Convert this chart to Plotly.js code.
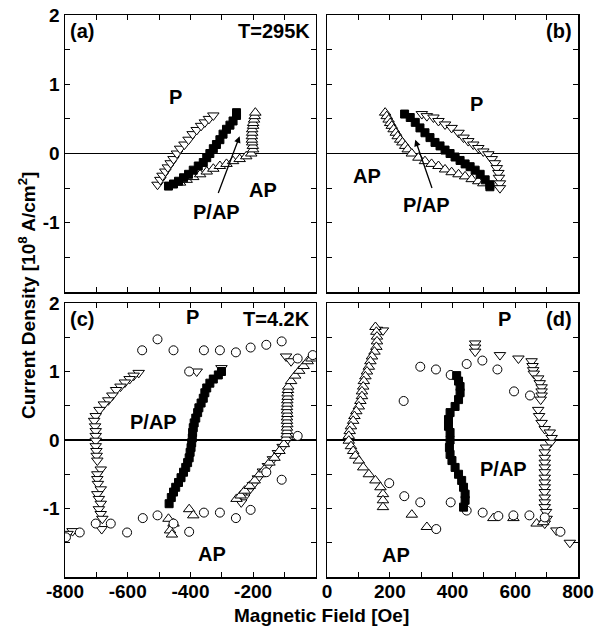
<!DOCTYPE html>
<html>
<head>
<meta charset="utf-8">
<script src="https://cdn.plot.ly/plotly-3.0.1.min.js"></script>
<style>html,body{margin:0;padding:0;background:#fff;}#plot{width:603px;height:633px;}</style>
</head>
<body>
<div id="plot"></div>
<script>
// ---------- Panel (a): T=295K, negative field ----------
const aDownH = [-505,-496,-489,-480,-472,-463,-454,-443,-433,-419,-406,-393,-380,-366,-354,-341,-327];
const aDownJ = [-0.45,-0.38,-0.32,-0.26,-0.20,-0.14,-0.08,0.00,0.07,0.13,0.20,0.28,0.34,0.40,0.45,0.50,0.55];
const aUpH = [-433,-412,-391,-369,-348,-327,-306,-285,-264,-243,-222,-206,-200,-201,-203,-204,-204,-203,-203,-200,-200,-197,-195,-193];
const aUpJ = [-0.42,-0.38,-0.34,-0.30,-0.26,-0.22,-0.18,-0.15,-0.11,-0.08,-0.04,0.00,0.06,0.11,0.16,0.20,0.25,0.30,0.35,0.40,0.44,0.49,0.54,0.59];
const aSqH = [-470,-454,-438,-422,-406,-391,-375,-359,-348,-338,-327,-317,-306,-296,-285,-274,-264,-253,-253];
const aSqJ = [-0.47,-0.44,-0.40,-0.35,-0.30,-0.24,-0.18,-0.13,-0.06,0.00,0.07,0.13,0.20,0.28,0.35,0.41,0.47,0.55,0.59];

// ---------- Panel (b): T=295K, positive field ----------
const bDownH = [302,318,339,355,376,397,419,435,450,466,482,498,514,525,535,541,546,548,551,551];
const bDownJ = [0.57,0.54,0.52,0.47,0.42,0.37,0.30,0.23,0.18,0.13,0.08,0.03,-0.01,-0.08,-0.14,-0.21,-0.28,-0.35,-0.43,-0.50];
const bUpH = [185,190,196,201,206,212,219,225,233,240,249,257,270,291,312,333,355,376,397,419,440,461,482,498];
const bUpJ = [0.59,0.54,0.49,0.44,0.40,0.35,0.30,0.25,0.20,0.16,0.11,0.06,0.00,-0.06,-0.11,-0.15,-0.18,-0.23,-0.27,-0.30,-0.33,-0.37,-0.40,-0.43];
const bSqH = [247,265,281,296,312,328,344,360,376,392,408,424,440,456,472,488,504,519,519];
const bSqJ = [0.57,0.52,0.45,0.37,0.30,0.23,0.16,0.11,0.05,0.00,-0.05,-0.10,-0.15,-0.19,-0.24,-0.30,-0.38,-0.45,-0.48];

// ---------- Panel (c): T=4.2K, negative field ----------
const cCircH = [-797,-753,-702,-654,-602,-554,-552,-505,-505,-454,-454,-404,-404,-357,-357,-306,-306,-255,-255,-208,-208,-158,-158,-109,-109,-58,-58,-10];
const cCircJ = [-1.42,-1.35,-1.22,-1.22,-1.35,1.31,-1.14,1.47,-1.10,1.31,-1.22,1.00,-1.34,1.31,-1.06,1.31,-1.06,1.28,-1.14,1.35,-1.02,1.39,-0.47,1.44,-0.58,0.06,1.19,1.24];
const cDownH = [-95,-79,-90,-106,-121,-137,-153,-169,-185,-201,-216,-229,-238,-380,-301,-565,-581,-594,-609,-623,-637,-649,-662,-676,-690,-702,-707,-704,-702,-702,-702,-702,-700,-699,-697,-686,-697,-697,-695,-686,-697,-692,-686,-692,-686,-681,-683,-776,-792];
const cDownJ = [1.22,1.15,0.01,-0.10,-0.19,-0.28,-0.38,-0.46,-0.56,-0.66,-0.75,-0.84,-0.91,1.00,1.05,0.98,0.94,0.89,0.84,0.78,0.73,0.65,0.58,0.52,0.44,0.35,0.28,0.20,0.13,0.06,-0.01,-0.09,-0.16,-0.23,-0.30,-0.43,-0.50,-0.57,-0.64,-0.72,-0.79,-0.86,-0.93,-1.01,-1.08,-1.15,-1.30,-1.33,-1.37];
const cUpH = [-470,-454,-465,-459,-404,-391,-253,-240,-227,-211,-195,-179,-164,-148,-132,-116,-102,-95,-93,-92,-92,-91,-92,-92,-91,-92,-92,-91,-91,-90,-90,-89,-88,-79,-66,-53,-39,-26,-14];
const cUpJ = [-1.15,-1.22,-1.32,-1.38,-1.01,-1.10,-0.86,-0.81,-0.74,-0.67,-0.59,-0.50,-0.43,-0.33,-0.26,-0.16,-0.06,0.03,0.08,0.13,0.18,0.23,0.28,0.33,0.38,0.43,0.48,0.53,0.58,0.63,0.68,0.73,0.78,0.86,0.94,1.01,1.08,1.15,1.19];
const cSqH = [-468,-461,-454,-447,-438,-430,-422,-415,-409,-404,-401,-398,-396,-394,-393,-391,-388,-383,-377,-373,-366,-359,-354,-348,-338,-327,-311,-301];
const cSqJ = [-0.93,-0.84,-0.76,-0.69,-0.62,-0.55,-0.47,-0.40,-0.33,-0.26,-0.18,-0.11,-0.04,0.03,0.11,0.18,0.25,0.32,0.40,0.47,0.54,0.61,0.69,0.76,0.83,0.89,0.95,1.00];

// ---------- Panel (d): T=4.2K, positive field ----------
const dCircH = [244,297,347,394,445,495,543,596,647,198,246,297,348,394,445,496,546,594,645,694,744];
const dCircJ = [0.57,1.07,1.03,0.95,1.11,1.16,1.03,0.71,0.65,-0.63,-0.82,-0.91,-1.30,-0.91,-1.03,-1.06,-1.11,-1.10,-1.10,-1.13,-1.34];
const dDownH = [159,178,472,472,472,551,610,652,655,657,659,673,678,684,684,684,681,673,676,684,694,710,716,712,698,694,694,694,694,694,694,694,694,694,694,694,694,698,700,694,731,774];
const dDownJ = [1.61,1.60,1.41,1.35,1.29,1.24,1.19,1.15,1.08,1.02,0.97,0.90,0.83,0.77,0.71,0.65,0.59,0.44,0.35,0.25,0.16,0.11,0.03,-0.04,-0.11,-0.18,-0.26,-0.33,-0.40,-0.47,-0.55,-0.62,-0.69,-0.76,-0.84,-0.91,-0.98,-1.05,-1.15,-1.22,-1.32,-1.50];
const dUpH = [154,157,159,159,157,151,143,138,133,127,122,117,115,111,111,106,101,93,87,83,76,72,69,69,76,83,90,101,115,133,154,170,178,178,178,270,318,530,594,668,689];
const dUpJ = [1.65,1.58,1.51,1.44,1.36,1.29,1.22,1.15,1.07,1.00,0.93,0.86,0.78,0.71,0.64,0.57,0.49,0.42,0.35,0.28,0.20,0.13,0.06,-0.01,-0.09,-0.16,-0.23,-0.30,-0.40,-0.50,-0.59,-0.69,-0.79,-0.88,-0.98,-1.09,-1.27,-1.14,-1.14,-1.22,-1.20];
const dSqH = [413,419,424,424,419,408,392,387,387,392,392,390,392,398,408,419,429,435,440,440,435];
const dSqJ = [0.94,0.86,0.78,0.69,0.59,0.49,0.40,0.30,0.20,0.11,0.00,-0.11,-0.21,-0.30,-0.40,-0.50,-0.59,-0.69,-0.79,-0.88,-0.98];

// ---------- Ticks ----------
const xTicksNeg = [-800,-700,-600,-500,-400,-300,-200,-100,0];
const xTextNeg  = ['-800','','-600','','-400','','-200','',''];
const xTicksPos = [0,100,200,300,400,500,600,700,800];
const xTextPos  = ['0','','200','','400','','600','','800'];
const yTicks = [-2,-1.5,-1,-0.5,0,0.5,1,1.5,2];
const yText  = ['','','-1','','0','','1','','2'];

const FONT = 'Liberation Sans, Arial, Helvetica, sans-serif';

function sc(x, y, sym, xa, ya, size, filled) {
  return {
    type: 'scatter', mode: 'markers', x: x, y: y, xaxis: xa, yaxis: ya,
    showlegend: false, hoverinfo: 'skip', cliponaxis: true,
    marker: {symbol: sym, size: size, color: filled ? '#000' : '#fff',
             line: {color: '#000', width: 1}}
  };
}

const data = [
  sc(cDownH, cDownJ, 'triangle-down', 'x', 'y', 10, false),
  sc(cUpH, cUpJ, 'triangle-up', 'x', 'y', 10, false),
  sc(cCircH, cCircJ, 'circle', 'x', 'y', 9, false),
  sc(cSqH, cSqJ, 'square', 'x', 'y', 8, true),
  sc(dDownH, dDownJ, 'triangle-down', 'x2', 'y2', 10, false),
  sc(dUpH, dUpJ, 'triangle-up', 'x2', 'y2', 10, false),
  sc(dCircH, dCircJ, 'circle', 'x2', 'y2', 9, false),
  sc(dSqH, dSqJ, 'square', 'x2', 'y2', 8, true),
  sc(aDownH, aDownJ, 'triangle-down', 'x3', 'y3', 10, false),
  sc(aUpH, aUpJ, 'triangle-up', 'x3', 'y3', 10, false),
  sc(aSqH, aSqJ, 'square', 'x3', 'y3', 8, true),
  sc(bDownH, bDownJ, 'triangle-down', 'x4', 'y4', 10, false),
  sc(bUpH, bUpJ, 'triangle-up', 'x4', 'y4', 10, false),
  sc(bSqH, bSqJ, 'square', 'x4', 'y4', 8, true)
];

const tickFont = {family: FONT, size: 19, color: '#000', weight: 'bold'};

function xax(domain, range, vals, text, anchor, showLabels) {
  return {
    domain: domain, range: range, anchor: anchor,
    tickmode: 'array', tickvals: vals, ticktext: showLabels ? text : vals.map(() => ''),
    ticks: 'inside', ticklen: 5, tickwidth: 1, tickcolor: '#000',
    showline: true, linecolor: '#000', linewidth: 1.5, mirror: 'ticks',
    showgrid: false, zeroline: false, tickfont: tickFont, fixedrange: true,
    ticklabelstandoff: -3
  };
}
function yax(domain, anchor, showLabels) {
  return {
    domain: domain, range: [-2, 2], anchor: anchor,
    tickmode: 'array', tickvals: yTicks, ticktext: showLabels ? yText : yTicks.map(() => ''),
    ticks: 'inside', ticklen: 5, tickwidth: 1, tickcolor: '#000',
    showline: true, linecolor: '#000', linewidth: 1.5, mirror: 'ticks',
    showgrid: false, zeroline: true, zerolinecolor: '#000', zerolinewidth: 1.5,
    tickfont: tickFont, fixedrange: true
  };
}

const L = [0, 0.489], R = [0.511, 1];
const B = [0, 0.4875], T = [0.507, 1];

function lab(text, xref, yref, x, y, xanchor, yanchor) {
  return {text: '<b>' + text + '</b>', xref: xref, yref: yref, x: x, y: y,
          xanchor: xanchor || 'center', yanchor: yanchor || 'middle', showarrow: false,
          font: {family: FONT, size: 20, color: '#000'}};
}
function arrow(xref, yref, x, y, ax, ay) {
  return {text: '', xref: xref, yref: yref, x: x, y: y, ax: ax, ay: ay,
          axref: xref, ayref: yref, showarrow: true, arrowhead: 2, arrowsize: 1,
          arrowwidth: 1.3, arrowcolor: '#000'};
}

const annotations = [
  lab('(a)', 'x3 domain', 'y3 domain', 0.01, 0.99, 'left', 'top'),
  lab('T=295K', 'x3 domain', 'y3 domain', 0.985, 0.99, 'right', 'top'),
  lab('P', 'x3', 'y3', -447, 0.81),
  lab('AP', 'x3', 'y3', -167, -0.52),
  lab('P/AP', 'x3', 'y3', -317, -0.84),
  arrow('x3', 'y3', -243, 0.25, -313, -0.59),
  lab('(b)', 'x4 domain', 'y4 domain', 0.985, 0.99, 'right', 'top'),
  lab('P', 'x4', 'y4', 477, 0.72),
  lab('AP', 'x4', 'y4', 128, -0.33),
  lab('P/AP', 'x4', 'y4', 318, -0.75),
  arrow('x4', 'y4', 281, 0.2, 336, -0.52),
  lab('(c)', 'x domain', 'y domain', 0.01, 0.99, 'left', 'top'),
  lab('T=4.2K', 'x domain', 'y domain', 0.985, 0.99, 'right', 'top'),
  lab('P', 'x', 'y', -394, 1.79),
  lab('P/AP', 'x', 'y', -517, 0.27),
  lab('AP', 'x', 'y', -330, -1.66),
  lab('(d)', 'x2 domain', 'y2 domain', 0.985, 0.99, 'right', 'top'),
  lab('P', 'x2', 'y2', 567, 1.77),
  lab('P/AP', 'x2', 'y2', 562, -0.43),
  lab('AP', 'x2', 'y2', 219, -1.68),
  {text: '<b>Magnetic Field [Oe]</b>', xref: 'paper', yref: 'paper', x: 0.5, y: -0.069,
   xanchor: 'center', yanchor: 'middle', showarrow: false,
   font: {family: FONT, size: 19, color: '#000'}},
  {text: '<b>Current Density [10<sup>8</sup> A/cm<sup>2</sup>]</b>', xref: 'paper', yref: 'paper',
   x: -0.074, y: 0.5, xanchor: 'center', yanchor: 'middle', textangle: -90, showarrow: false,
   font: {family: FONT, size: 19, color: '#000'}}
];

const layout = {
  width: 603, height: 633,
  margin: {l: 65, r: 25, t: 15, b: 56, pad: 0},
  paper_bgcolor: '#fff', plot_bgcolor: '#fff',
  showlegend: false,
  xaxis:  xax(L, [-800, 0], xTicksNeg, xTextNeg, 'y', true),
  yaxis:  yax(B, 'x', true),
  xaxis2: xax(R, [0, 800], xTicksPos, xTextPos, 'y2', true),
  yaxis2: yax(B, 'x2', false),
  xaxis3: xax(L, [-800, 0], xTicksNeg, xTextNeg, 'y3', false),
  yaxis3: yax(T, 'x3', true),
  xaxis4: xax(R, [0, 800], xTicksPos, xTextPos, 'y4', false),
  yaxis4: yax(T, 'x4', false),
  annotations: annotations
};

Plotly.newPlot('plot', data, layout, {displayModeBar: false, staticPlot: true});
</script>
</body>
</html>
